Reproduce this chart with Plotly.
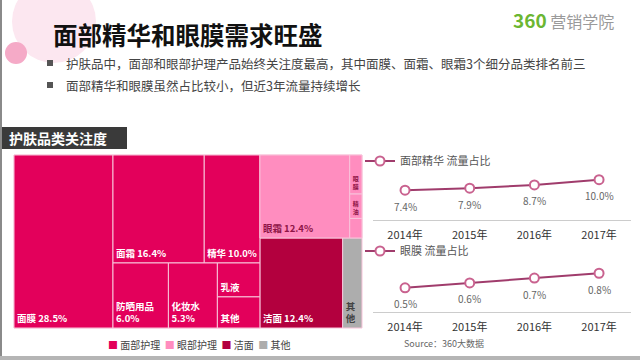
import plotly.graph_objects as go

W, H = 640, 360


def px(x):
    return x / W


def py(y):
    return 1 - y / H


FONT = "Noto Sans CJK SC"

# ---------------- data ----------------
groups = ["面部护理", "眼部护理", "洁面", "其他"]
group_colors = ["#E3005B", "#FF8DBF", "#B3003E", "#ADADAD"]

face_items = ["面膜", "面霜", "精华", "防晒用品", "化妆水", "乳液", "其他"]
face_values = [28.5, 16.4, 10.0, 6.0, 5.3, 2.4, 2.2]
eye_items = ["眼霜", "眼膜", "精油", "其他"]
eye_values = [12.4, 0.8, 0.5, 0.4]
clean_value = 12.4
other_value = 2.9

years = ["2014年", "2015年", "2016年", "2017年"]
serum_share = [7.4, 7.9, 8.7, 10.0]
eyemask_share = [0.5, 0.6, 0.7, 0.8]

# ---------------- treemap nodes ----------------
ids, labels, parents, values, colors, texts, tcolors = [], [], [], [], [], [], []

face_total = sum(face_values)
eye_total = sum(eye_values)

ids += ["face", "eye", "clean", "other"]
labels += groups
parents += ["", "", "", ""]
values += [face_total, eye_total, clean_value, other_value]
colors += group_colors
texts += ["", "", f"<b>{groups[2]} {clean_value:.1f}%</b>", "<b>" + "<br>".join(groups[3]) + "</b>"]
tcolors += ["white", "white", "white", "#444444"]

for name, v in zip(face_items, face_values):
    ids.append("face/" + name)
    labels.append(name)
    parents.append("face")
    values.append(v)
    colors.append(group_colors[0])
    if v >= 10:
        texts.append(f"<b>{name} {v:.1f}%</b>")
    elif v >= 5:
        texts.append(f"<b>{name}<br>{v:.1f}%</b>")
    else:
        texts.append(f"<b>{name}</b>")
    tcolors.append("white")

for i, (name, v) in enumerate(zip(eye_items, eye_values)):
    ids.append("eye/" + name)
    labels.append(name)
    parents.append("eye")
    values.append(v)
    colors.append(group_colors[1])
    if v >= 10:
        texts.append(f"<b>{name} {v:.1f}%</b>")
    elif i < len(eye_items) - 1:
        texts.append("<b>" + "<br>".join(name) + "</b>")
    else:
        texts.append("")
    tcolors.append("#8E1446")

fig = go.Figure()

fig.add_trace(go.Treemap(
    ids=ids, labels=labels, parents=parents, values=values,
    branchvalues="total", sort=True,
    text=texts, textinfo="text", textposition="bottom left",
    textfont=dict(family=FONT, size=9.5, color=tcolors),
    marker=dict(colors=colors, line=dict(color="#F8C4DA", width=1),
                pad=dict(t=0, l=0, r=0, b=0)),
    tiling=dict(packing="squarify", squarifyratio=1, pad=0),
    pathbar=dict(visible=False),
    domain=dict(x=[px(14), px(362)], y=[py(328), py(155)]),
    hoverinfo="label+value",
))

line_color = "#A03C6C"
mk = dict(symbol="circle", size=9, color="white", line=dict(color="#C9628F", width=2))

fig.add_trace(go.Scatter(
    x=years, y=serum_share, mode="lines+markers", name="面部精华 流量占比",
    line=dict(color=line_color, width=2), marker=mk, cliponaxis=False,
    xaxis="x", yaxis="y", legend="legend2",
))
fig.add_trace(go.Scatter(
    x=years, y=eyemask_share, mode="lines+markers", name="眼膜 流量占比",
    line=dict(color=line_color, width=2), marker=mk, cliponaxis=False,
    xaxis="x2", yaxis="y2", legend="legend3",
))

annotations = []
for yr, v in zip(years, serum_share):
    annotations.append(dict(x=yr, y=v, xref="x", yref="y", text=f"{v:.1f}%", showarrow=False,
                            yshift=-16, font=dict(family=FONT, size=10, color="#666666")))
for yr, v in zip(years, eyemask_share):
    annotations.append(dict(x=yr, y=v, xref="x2", yref="y2", text=f"{v:.1f}%", showarrow=False,
                            yshift=-16, font=dict(family=FONT, size=10, color="#666666")))

annotations += [
    dict(x=px(51), y=py(35), xref="paper", yref="paper", xanchor="left", yanchor="middle",
         text="<b>面部精华和眼膜需求旺盛</b>", showarrow=False,
         font=dict(family=FONT, size=24.5, color="#111111")),
    dict(x=px(64), y=py(63), xref="paper", yref="paper", xanchor="left", yanchor="middle",
         text="护肤品中，面部和眼部护理产品始终关注度最高，其中面膜、面霜、眼霜3个细分品类排名前三",
         showarrow=False, font=dict(family=FONT, size=12.5, color="#444444")),
    dict(x=px(64), y=py(85), xref="paper", yref="paper", xanchor="left", yanchor="middle",
         text="面部精华和眼膜虽然占比较小，但近3年流量持续增长",
         showarrow=False, font=dict(family=FONT, size=12.5, color="#444444")),
    dict(x=px(511), y=py(19), xref="paper", yref="paper", xanchor="left", yanchor="middle",
         text="<span style='color:#6BB632;font-size:19px'><b>360</b></span> <span style='color:#9A9A9A'>营销学院</span>",
         showarrow=False, font=dict(family=FONT, size=16, color="#9A9A9A")),
    dict(x=px(7), y=py(138), xref="paper", yref="paper", xanchor="left", yanchor="middle",
         text="<b>护肤品类关注度</b>", showarrow=False,
         font=dict(family=FONT, size=14, color="white")),
    dict(x=px(106), y=py(344), xref="paper", yref="paper", xanchor="left", yanchor="middle",
         text="  ".join(f"<span style='color:{c}'>■</span> {g}" for g, c in zip(groups, group_colors)),
         showarrow=False, font=dict(family=FONT, size=10, color="#444444")),
    dict(x=px(402), y=py(343), xref="paper", yref="paper", xanchor="left", yanchor="middle",
         text="Source：360大数据", showarrow=False,
         font=dict(family=FONT, size=9, color="#666666")),
]

shapes = [
    dict(type="circle", xref="paper", yref="paper", x0=px(12), x1=px(96), y0=py(-20), y1=py(63),
         fillcolor="#FCE7F0", line=dict(width=0), layer="below"),
    dict(type="circle", xref="paper", yref="paper", x0=px(5), x1=px(27), y0=py(42), y1=py(64),
         fillcolor="#F5AAC7", line=dict(width=0), layer="below"),
    dict(type="rect", xref="paper", yref="paper", x0=px(47), x1=px(53), y0=py(60), y1=py(66),
         fillcolor="#555555", line=dict(width=0)),
    dict(type="rect", xref="paper", yref="paper", x0=px(47), x1=px(53), y0=py(82), y1=py(88),
         fillcolor="#555555", line=dict(width=0)),
    dict(type="rect", xref="paper", yref="paper", x0=px(2), x1=px(127), y0=py(149), y1=py(127),
         fillcolor="#3A3A3A", line=dict(width=0)),
    dict(type="rect", xref="paper", yref="paper", x0=0, x1=px(2), y0=0, y1=1,
         fillcolor="#8A8A8A", line=dict(width=0)),
    dict(type="rect", xref="paper", yref="paper", x0=0, x1=1, y0=0, y1=py(356),
         fillcolor="#B5B5B5", line=dict(width=0)),
]

xaxis_common = dict(type="category", range=[-0.5, 3.5], showline=True, linecolor="#CCCCCC",
                    linewidth=1, ticks="outside", ticklen=5, tickcolor="rgba(0,0,0,0)",
                    showgrid=False, zeroline=False, fixedrange=True,
                    tickfont=dict(family=FONT, size=11, color="#333333"))

legend_common = dict(orientation="h", xanchor="left", yanchor="middle", itemwidth=30,
                     bgcolor="rgba(0,0,0,0)", font=dict(family=FONT, size=11, color="#555555"))

fig.update_layout(
    width=W, height=H, margin=dict(l=0, r=0, t=0, b=0),
    paper_bgcolor="white", plot_bgcolor="rgba(0,0,0,0)",
    font=dict(family=FONT),
    xaxis=dict(domain=[px(372.7), px(631.4)], anchor="y", **xaxis_common),
    yaxis=dict(domain=[py(220), py(170)], range=[0, 12.4], visible=False, anchor="x"),
    xaxis2=dict(domain=[px(372.7), px(631.4)], anchor="y2", **xaxis_common),
    yaxis2=dict(domain=[py(312), py(265)], range=[0, 0.97], visible=False, anchor="x2"),
    legend2=dict(x=px(360), y=py(161), **legend_common),
    legend3=dict(x=px(360), y=py(251), **legend_common),
    annotations=annotations,
    shapes=shapes,
)

fig.write_html("out.html", config={"displayModeBar": False},
               post_script="document.body.style.margin='0';document.body.style.overflow='hidden';")
